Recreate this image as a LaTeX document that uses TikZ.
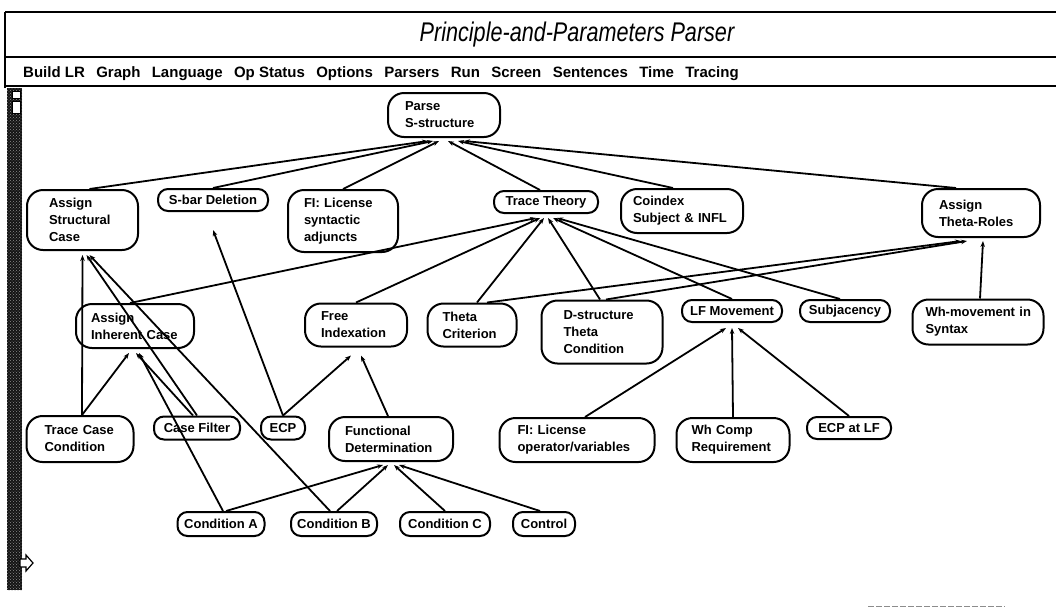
\documentclass[tikz,border=0pt]{standalone}
\usepackage{fontspec}
\setmainfont{Liberation Sans}
\newfontfamily\titlefont[FakeStretch=0.8]{Liberation Sans}
\newfontfamily\menufont{Liberation Sans}
\usetikzlibrary{arrows.meta,patterns}

\begin{document}
\begin{tikzpicture}[x=1pt,y=-1pt,
  box/.style={draw, line width=2pt, rounded corners=16pt, align=left,
    font=\bfseries\fontsize{13}{17}\selectfont, inner xsep=17pt, inner ysep=2pt},
  pill/.style={draw, line width=2pt, rounded corners=10pt, align=center,
    font=\bfseries\fontsize{13}{17}\selectfont, inner xsep=2pt, inner ysep=2pt,
    minimum height=22pt},
  dep/.style={line width=1.8pt, -{Stealth[length=6pt,width=4.5pt]}},
  menuitem/.style={font=\menufont\bfseries\fontsize{15}{18}\selectfont, inner sep=0pt, anchor=base west},
  frame/.style={line width=2.2pt}
]
\useasboundingbox (0,0) rectangle (1056,611);

% window frame, title bar and menu bar
\draw[frame] (5,12) -- (1056,12);
\draw[frame] (5,12) -- (5,88);
\draw[frame] (5,57) -- (1056,57);
\draw[frame] (5,86) -- (1056,86);
\node[font=\titlefont\itshape\fontsize{27}{27}\selectfont] (title) at (577,35) {Principle-and-Parameters Parser};

\node[menuitem] (m1) at (23,77) {Build LR};
\node[menuitem] (m2) at ([xshift=11pt]m1.base east) {Graph};
\node[menuitem] (m3) at ([xshift=11pt]m2.base east) {Language};
\node[menuitem] (m4) at ([xshift=11pt]m3.base east) {Op Status};
\node[menuitem] (m5) at ([xshift=11pt]m4.base east) {Options};
\node[menuitem] (m6) at ([xshift=11pt]m5.base east) {Parsers};
\node[menuitem] (m7) at ([xshift=11pt]m6.base east) {Run};
\node[menuitem] (m8) at ([xshift=11pt]m7.base east) {Screen};
\node[menuitem] (m9) at ([xshift=11pt]m8.base east) {Sentences};
\node[menuitem] (m10) at ([xshift=11pt]m9.base east) {Time};
\node[menuitem] (m11) at ([xshift=11pt]m10.base east) {Tracing};

% scroll bar on the left
\fill[black!92] (7,88) rectangle (22,590);
\fill[pattern=crosshatch dots, pattern color=black!45] (7,88) rectangle (22,590);
\draw[fill=white, line width=0.8pt] (12,91) rectangle (20,98);
\draw[fill=white, line width=0.8pt] (12,101) rectangle (20,113);
\draw[fill=white, line width=1.2pt] (20,559) -- (26,559) -- (26,555) -- (33,563)
  -- (26,571) -- (26,567) -- (20,567) -- cycle;
\draw[black!45, line width=1pt, dash pattern=on 6pt off 2pt] (868,606) -- (1005,606);

% principles
\node[box, text width=78pt, minimum height=44pt] (PS) at (444,115) {Parse\\S-structure};

\node[box, inner xsep=22pt, text width=67pt, minimum height=60pt] (ASC) at (82.5,220) {Assign\\Structural\\Case};
\node[pill, minimum width=110pt] (SBD) at (213,200) {S-bar Deletion};
\node[box, inner xsep=16pt, text width=78pt, minimum height=62pt] (FIS) at (343,221) {\mbox{FI: License}\\syntactic\\adjuncts};
\node[pill, minimum width=104pt] (TT) at (546,202) {Trace Theory};
\node[box, inner xsep=12pt, text width=98pt, minimum height=44pt] (CSI) at (682,211) {Coindex\\\mbox{Subject \& INFL}};
\node[box, text width=84pt, minimum height=48pt] (ATR) at (981,213) {Assign\\\mbox{Theta-Roles}};

\node[box, inner xsep=15pt, text width=88pt, minimum height=44pt] (AIC) at (135,326) {Assign\\\mbox{Inherent Case}};
\node[box, inner xsep=16pt, text width=70pt, minimum height=43pt] (FIX) at (356,325) {Free\\Indexation};
\node[box, inner xsep=15pt, text width=59pt, minimum height=43pt] (TC) at (472,325) {Theta\\Criterion};
\node[box, inner xsep=22pt, text width=77pt, minimum height=63pt] (DTC) at (602,332) {\mbox{D-structure}\\Theta\\Condition};
\node[pill, minimum width=100pt] (LFM) at (732,311) {LF Movement};
\node[pill, minimum width=90pt] (SUB) at (845,311) {Subjacency};
\node[box, inner xsep=13pt, text width=105pt, minimum height=45pt] (WHS) at (978,322) {\mbox{Wh-movement in}\\Syntax};

\node[box, inner xsep=18pt, text width=71pt, minimum height=46pt] (TCC) at (80,439) {\mbox{Trace Case}\\Condition};
\node[pill, minimum width=86pt, minimum height=23pt] (CF) at (197,428) {Case Filter};
\node[pill, minimum width=44pt, minimum height=23pt] (ECP) at (283,428) {ECP};
\node[box, inner xsep=16pt, text width=92pt, minimum height=44pt] (FD) at (391,439) {Functional\\Determination};
\node[box, inner xsep=18pt, text width=119pt, minimum height=44pt] (FIO) at (577,440) {\mbox{FI: License}\\\mbox{operator/variables}};
\node[box, inner xsep=15pt, text width=83pt, minimum height=44pt] (WCR) at (733,440) {\mbox{Wh Comp}\\Requirement};
\node[pill, minimum width=84pt] (ELF) at (849,428) {ECP at LF};

\node[pill, minimum width=87pt, minimum height=24pt] (CA) at (221,524) {Condition A};
\node[pill, minimum width=86pt, minimum height=24pt] (CB) at (334,524) {Condition B};
\node[pill, minimum width=90pt, minimum height=24pt] (CC) at (445,524) {Condition C};
\node[pill, minimum width=62pt, minimum height=24pt] (CTL) at (544,524) {Control};

% dependencies: each principle points to the one it feeds
\draw[dep] ([xshift=7pt]ASC.north) -- ([xshift=-16pt,yshift=-3pt]PS.south);
\draw[dep] (SBD.north) -- ([xshift=-11pt,yshift=-3pt]PS.south);
\draw[dep] (FIS.north) -- ([xshift=-5pt,yshift=-3pt]PS.south);
\draw[dep] ([xshift=-6pt]TT.north) -- ([xshift=4pt,yshift=-3pt]PS.south);
\draw[dep] ([xshift=-9pt]CSI.north) -- ([xshift=14pt,yshift=-3pt]PS.south);
\draw[dep] ([xshift=-25pt]ATR.north) -- ([xshift=20pt,yshift=-3pt]PS.south);

\draw[dep] ([xshift=-5pt]AIC.north) -- ([xshift=-10pt,yshift=-4pt]TT.south);
\draw[dep] (FIX.north) -- ([xshift=-6pt,yshift=-4pt]TT.south);
\draw[dep] ([xshift=5pt]TC.north) -- ([xshift=-2pt,yshift=-4pt]TT.south);
\draw[dep] ([xshift=-2pt]DTC.north) -- ([xshift=2pt,yshift=-4pt]TT.south);
\draw[dep] (LFM.north) -- ([xshift=7pt,yshift=-4pt]TT.south);
\draw[dep] ([xshift=-5pt]SUB.north) -- ([xshift=11pt,yshift=-4pt]TT.south);

\draw[dep] ([xshift=15pt]TC.north) -- ([xshift=-20pt,yshift=-3pt]ATR.south);
\draw[dep] ([xshift=4pt]DTC.north) -- ([xshift=-14pt,yshift=-3pt]ATR.south);
\draw[dep] ([xshift=2pt]WHS.north) -- ([xshift=2pt,yshift=-3pt]ATR.south);

\draw[dep] ([xshift=2pt]TCC.north) -- ([yshift=-4pt]ASC.south);
\draw[dep] (CF.north) -- ([xshift=4pt,yshift=-4pt]ASC.south);
\draw[dep] ([xshift=-4pt]CB.north) -- ([xshift=7pt,yshift=-4pt]ASC.south);

\draw[dep] ([xshift=2pt]TCC.north) -- ([xshift=-6pt,yshift=-4pt]AIC.south);
\draw[dep] ([xshift=-4pt]CF.north) -- ([xshift=1pt,yshift=-4pt]AIC.south);
\draw[dep] ([xshift=2pt]CA.north) -- ([xshift=4pt,yshift=-4pt]AIC.south);

\draw[dep] (ECP.north) -- ([yshift=-18pt]SBD.south);
\draw[dep] (ECP.north) -- ([xshift=-5pt,yshift=-8pt]FIX.south);
\draw[dep] ([xshift=-3pt]FD.north) -- ([xshift=5pt,yshift=-8pt]FIX.south);

\draw[dep] ([xshift=5pt]CA.north) -- ([xshift=-8pt,yshift=-3pt]FD.south);
\draw[dep] ([xshift=3pt]CB.north) -- ([xshift=-3pt,yshift=-3pt]FD.south);
\draw[dep] (CC.north) -- ([xshift=3pt,yshift=-3pt]FD.south);
\draw[dep] ([xshift=-4pt]CTL.north) -- ([xshift=8pt,yshift=-3pt]FD.south);

\draw[dep] ([xshift=8pt]FIO.north) -- ([xshift=-6pt,yshift=-5pt]LFM.south);
\draw[dep] (WCR.north) -- ([yshift=-5pt]LFM.south);
\draw[dep] (ELF.north) -- ([xshift=6pt,yshift=-5pt]LFM.south);
\end{tikzpicture}
\end{document}
